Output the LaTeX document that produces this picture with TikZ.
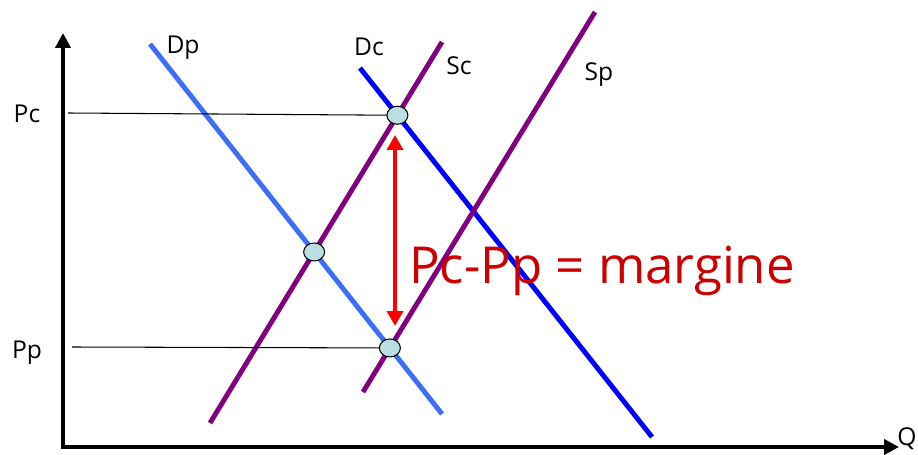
\documentclass[tikz,border=0pt]{standalone}
\usepackage{fontspec}
\setmainfont{Open Sans}
\usepackage{tikz}
\usetikzlibrary{arrows.meta, positioning, shapes.geometric}

\definecolor{dplight}{RGB}{60,110,250}
\definecolor{dcblue}{RGB}{0,0,255}
\definecolor{spurple}{RGB}{128,0,128}
\definecolor{dotfill}{RGB}{186,222,225}
\definecolor{textred}{RGB}{204,0,0}

\begin{document}
\begin{tikzpicture}[
  x=0.02cm, y=-0.02cm,
  font=\fontsize{14}{16}\selectfont,
  axis/.style={line width=2.5pt, line join=miter, {Triangle[length=3mm, width=3mm]}-{Triangle[length=3mm, width=3mm]}},
  curve/.style={line width=2.8pt},
  guide/.style={line width=0.6pt},
  dot/.style={draw, ellipse, fill=dotfill, line width=0.6pt, inner sep=0pt, minimum width=0.42cm, minimum height=0.36cm},
  gap/.style={red, line width=2.8pt, {Triangle[length=3mm, width=3.2mm]}-{Triangle[length=3mm, width=3.2mm]}}
]
  \useasboundingbox (0,0) rectangle (918,455);

  % axes
  \coordinate (o) at (63,447);
  \coordinate (ytip) at (63,33);
  \coordinate (xtip) at (899,447);
  \draw[axis] (ytip) -- (o) -- (xtip);
  \node (q) at (907,439) {Q};

  % curve ends
  \coordinate (dp1) at (150,44);  \coordinate (dp2) at (442,414);
  \coordinate (dc1) at (360,68);  \coordinate (dc2) at (652,437);
  \coordinate (sc1) at (210,423); \coordinate (sc2) at (442,42);
  \coordinate (sp1) at (363,392); \coordinate (sp2) at (595,12);

  \draw[curve, dplight] (dp1) -- (dp2);
  \draw[curve, dcblue] (dc1) -- (dc2);
  \draw[curve, spurple] (sc1) -- (sc2);
  \draw[curve, spurple] (sp1) -- (sp2);

  \node (dp) at (183,48) {Dp};
  \node (dc) at (369,47) {Dc};
  \node (sc) at (459,66) {Sc};
  \node (sp) at (599,75) {Sp};

  % equilibria
  \coordinate (ec) at (intersection of dc1--dc2 and sc1--sc2);
  \coordinate (ep) at (intersection of dp1--dp2 and sp1--sp2);
  \coordinate (em) at (intersection of dp1--dp2 and sc1--sc2);

  % price levels
  \node (pc) at (27,114) {Pc};
  \node (pp) at (27,353) {Pp};
  \coordinate (pcl) at (68,113);
  \coordinate (ppl) at (72,347);
  \draw[guide] (pcl) -- (ec);
  \draw[guide] (ppl) -- (ep);

  \node[dot] (cdot) at (ec) {};
  \node[dot] (pdot) at (ep) {};
  \node[dot] (mdot) at (em) {};

  % margin
  \coordinate (gtop) at (395,135);
  \coordinate (gbot) at (395,326);
  \draw[gap] (gtop) -- (gbot);
  \node[textred, font=\fontsize{29}{34}\selectfont] (margin) at (602,271) {Pc-Pp = margine};
\end{tikzpicture}
\end{document}
